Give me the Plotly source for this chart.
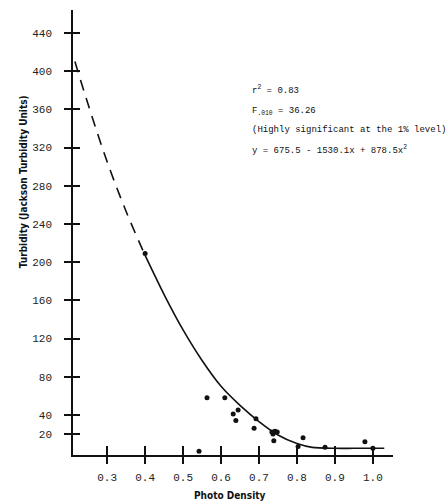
import plotly.graph_objects as go

# Observed data points (photo density, turbidity JTU)
pt_x = [0.40, 0.542, 0.563, 0.61, 0.632, 0.639, 0.645, 0.687, 0.692, 0.734, 0.742, 0.737, 0.739, 0.748, 0.803, 0.816, 0.874, 0.979, 1.0]
pt_y = [209, 2, 58, 58, 41, 34, 45, 26, 36, 22, 23, 20, 13, 22, 7, 16, 6, 12, 5]

# Fitted curve: dashed extrapolation and solid part
dash_x = [0.215, 0.25, 0.30, 0.35, 0.40]
dash_y = [410, 365, 305, 253, 207]
fit_x = [0.40, 0.45, 0.50, 0.55, 0.60, 0.65, 0.70, 0.75, 0.80, 0.84, 0.90, 0.95, 1.03]
fit_y = [207, 166, 129, 97, 70, 50, 33, 19, 10, 6, 5, 5, 5]

x_ticks = [0.3, 0.4, 0.5, 0.6, 0.7, 0.8, 0.9, 1.0]
x_labels = ["0.3", "0.4", "0.5", "0.6", "0.7", "0.8", "0.9", "1.0"]
y_ticks = [20, 40, 80, 120, 160, 200, 240, 280, 320, 360, 400, 440]

stats_lines = [
    "r<sup>2</sup> = 0.83",
    "F<sub>.010</sub> = 36.26",
    "(Highly significant at the 1% level)",
    "y = 675.5 - 1530.1x + 878.5x<sup>2</sup>",
]

XR = [0.21, 1.053]
YR = [-2, 464]
MONO = "Liberation Mono"
INK = "#111111"

fig = go.Figure()
fig.add_trace(go.Scatter(x=dash_x, y=dash_y, mode="lines",
                         line=dict(color=INK, width=1.6, dash="11px,8px", shape="spline"),
                         xaxis="x2", yaxis="y2", hoverinfo="skip"))
fig.add_trace(go.Scatter(x=fit_x, y=fit_y, mode="lines",
                         line=dict(color=INK, width=1.6, shape="spline", smoothing=0.8),
                         hoverinfo="skip"))
fig.add_trace(go.Scatter(x=pt_x, y=pt_y, mode="markers",
                         marker=dict(color=INK, size=5)))

axis_common = dict(showgrid=False, zeroline=False, showline=True,
                   linecolor=INK, linewidth=1.5, tickcolor=INK, tickwidth=1.5)

fig.update_layout(
    width=448, height=502,
    margin=dict(l=73, r=55, t=10, b=47),
    paper_bgcolor="white", plot_bgcolor="white",
    showlegend=False,
    font=dict(family=MONO, size=10, color=INK),
    xaxis=dict(range=XR, tickmode="array", tickvals=x_ticks, ticktext=x_labels,
               ticks="outside", ticklen=7, ticklabelstandoff=4,
               tickfont=dict(family=MONO, size=11, color="#222"),
               **axis_common),
    yaxis=dict(range=YR, tickmode="array", tickvals=y_ticks,
               ticks="outside", ticklen=7, ticklabelstandoff=10,
               tickfont=dict(family=MONO, size=11, color="#222"),
               **axis_common),
    xaxis2=dict(range=XR, overlaying="x", anchor="y2", side="bottom",
                tickmode="array", tickvals=x_ticks, showticklabels=False,
                ticks="inside", ticklen=9, **axis_common),
    yaxis2=dict(range=YR, overlaying="y", anchor="x2", side="left",
                tickmode="array", tickvals=y_ticks, showticklabels=False,
                ticks="inside", ticklen=7, **axis_common),
)

# Axis titles
fig.add_annotation(text="<b>Photo Density</b>", xref="paper", yref="paper",
                   x=0.49, y=-0.075, yanchor="top", showarrow=False,
                   font=dict(family="DejaVu Sans Condensed", size=10, color=INK))
fig.add_annotation(text="<b>Turbidity (Jackson Turbidity Units)</b>", xref="paper", yref="paper",
                   x=-0.18, y=0.615, textangle=-90, showarrow=False,
                   font=dict(family="DejaVu Sans Condensed", size=10, color=INK))

# Statistics text block
stat_y = [90, 112, 130, 150]
for txt, py in zip(stats_lines, stat_y):
    fig.add_annotation(text=txt, xref="paper", yref="paper",
                       x=(250 - 73) / 320, y=1 - (py - 10) / 445,
                       xanchor="left", yanchor="middle", showarrow=False,
                       font=dict(family=MONO, size=9, color=INK))

fig.write_html("out.html")
